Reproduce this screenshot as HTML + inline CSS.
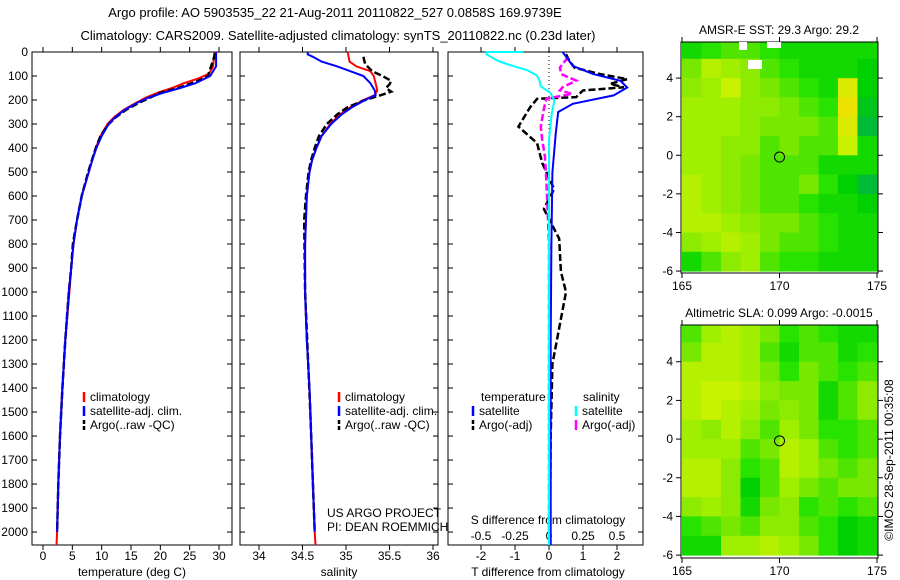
<!DOCTYPE html>
<html><head><meta charset="utf-8"><style>
body{margin:0;background:#fff}
svg{display:block;font-family:"Liberation Sans",sans-serif}
text{font-size:12px;fill:#000}
</style></head><body>
<svg id="fig" width="900" height="580" viewBox="0 0 900 580">
<text x="335" y="17" text-anchor="middle" style="font-size:13px">Argo profile: AO 5903535_22 21-Aug-2011 20110822_527 0.0858S 169.9739E</text>
<text x="338" y="40" text-anchor="middle" style="font-size:13px">Climatology: CARS2009. Satellite-adjusted climatology: synTS_20110822.nc (0.23d later)</text>
<text x="0" y="0" transform="translate(893,460) rotate(-90)" text-anchor="middle">©IMOS 28-Sep-2011 00:35:08</text>
<g id="g"></g>
</svg>
<script>
// ---- data ----
const depthTicks=[0,100,200,300,400,500,600,700,800,900,1000,1100,1200,1300,1400,1500,1600,1700,1800,1900,2000];
const tempTicks=[0,5,10,15,20,25,30];
const salTicks=[34,34.5,35,35.5,36];
const tdiffTicks=[-2,-1,0,1,2];
const sdiffTicks=[-0.5,-0.25,0,0.25,0.5];
const tempClim=[[0,29.2],[60,29.0],[90,28.3],[110,26.5],[130,24],[150,22],[170,19.5],[190,17.5],[210,16],[240,13.8],[270,12.2],[300,11],[350,9.8],[400,9],[450,8.4],[500,7.8],[600,6.6],[700,5.8],[800,5.2],[900,4.8],[1000,4.5],[1200,3.8],[1400,3.3],[1600,2.9],[1800,2.6],[2000,2.4],[2054,2.3]];
const tempSat=[[0,29.5],[60,29.5],[100,28.5],[130,26],[150,23.4],[170,20.5],[190,18],[210,16.2],[240,14],[270,12.4],[300,11.2],[350,10],[400,9.1],[450,8.4],[500,7.8],[600,6.6],[700,5.8],[800,5.2],[900,4.8],[1000,4.4],[1200,3.8],[1400,3.3],[1600,2.9],[1800,2.6],[1900,2.5],[2000,2.4]];
const tempArgo=[[5,29.4],[100,28.1],[120,26.5],[150,23],[170,20],[210,16.5],[240,14.2],[270,12.5],[300,11.2],[350,9.8],[400,9],[500,7.7],[600,6.6],[700,5.8],[800,5.1],[900,4.8],[1000,4.4],[1200,3.8],[1400,3.3],[1600,2.9],[1800,2.6],[2000,2.4]];
const salClim=[[0,35.02],[40,35.04],[60,35.12],[80,35.28],[100,35.32],[130,35.34],[160,35.36],[180,35.33],[200,35.2],[230,35.05],[260,34.93],[300,34.82],[350,34.72],[400,34.66],[450,34.61],[500,34.58],[600,34.55],[800,34.53],[1000,34.53],[1200,34.55],[1400,34.58],[1600,34.6],[1800,34.62],[2000,34.64],[2054,34.65]];
const salSat=[[0,34.56],[10,34.56],[20,34.62],[40,34.72],[60,34.9],[80,35.05],[100,35.2],[130,35.28],[160,35.33],[180,35.34],[200,35.22],[230,35.07],[260,34.95],[300,34.83],[350,34.72],[400,34.66],[450,34.61],[500,34.58],[600,34.55],[800,34.53],[1000,34.53],[1200,34.55],[1400,34.58],[1600,34.6],[1800,34.62],[2000,34.64]];
const salArgo=[[20,35.2],[50,35.22],[80,35.3],[100,35.42],[120,35.52],[135,35.5],[150,35.46],[165,35.52],[180,35.4],[200,35.22],[230,35.02],[260,34.9],[300,34.78],[350,34.69],[400,34.64],[450,34.6],[500,34.57],[600,34.54],[700,34.52],[1000,34.53],[1500,34.59],[2000,34.64]];
const tdiffSat=[[0,0.4],[58,0.7],[92,1.3],[120,2.1],[148,2.3],[181,1.9],[216,0.7],[250,0.27],[337,0.2],[502,0.1],[800,0.07],[1200,0.05],[2054,0.05]];
const sdiffSat=[[0,-0.19],[0,-0.46],[9,-0.46],[36,-0.38],[50,-0.31],[76,-0.16],[97,-0.09],[119,-0.07],[143,-0.06],[170,0.01],[202,0.04],[257,0.02],[366,0],[2054,0]];
const tdiffArgo=[[9,0.5],[37,0.6],[65,0.75],[92,1.5],[113,2.3],[133,1.8],[147,2.2],[160,1.0],[188,0.8],[195,-0.35],[229,-0.55],[311,-0.9],[380,-0.35],[462,-0.2],[571,0.15],[654,-0.15],[778,0.3],[915,0.35],[1000,0.5],[1150,0.3],[1300,0.1],[1600,0.05],[2000,0.03]];
const sdiffArgo=[[22,0.14],[65,0.08],[92,0.09],[119,0.2],[147,0.1],[160,0.08],[174,0.17],[195,-0.02],[243,-0.04],[311,-0.06],[366,-0.05],[435,-0.03],[530,-0.02],[800,0],[2000,0]];
const sstGrid=[
[0.5,0.55,0.6,0.6,0.55,0.5,0.5,0.5,0.5,0.5],
[0.65,0.8,0.75,0.7,0.6,0.55,0.5,0.5,0.5,0.45],
[0.7,0.75,0.85,0.7,0.65,0.6,0.55,0.5,0.9,0.45],
[0.75,0.75,0.75,0.7,0.7,0.65,0.6,0.55,0.95,0.4],
[0.75,0.75,0.75,0.7,0.65,0.65,0.65,0.6,0.9,0.35],
[0.75,0.75,0.7,0.7,0.6,0.65,0.6,0.6,0.85,0.5],
[0.75,0.75,0.7,0.65,0.6,0.6,0.6,0.5,0.5,0.5],
[0.8,0.75,0.7,0.65,0.6,0.6,0.65,0.55,0.45,0.35],
[0.8,0.75,0.7,0.65,0.6,0.6,0.55,0.5,0.5,0.45],
[0.8,0.8,0.75,0.7,0.65,0.65,0.6,0.55,0.5,0.5],
[0.7,0.75,0.8,0.75,0.65,0.6,0.6,0.55,0.5,0.5],
[0.5,0.6,0.7,0.75,0.6,0.55,0.55,0.5,0.5,0.5]];
const slaGrid=[
[0.6,0.75,0.8,0.75,0.65,0.55,0.6,0.55,0.5,0.5],
[0.65,0.8,0.8,0.75,0.6,0.5,0.6,0.6,0.5,0.55],
[0.8,0.8,0.8,0.75,0.65,0.55,0.65,0.6,0.55,0.6],
[0.8,0.85,0.85,0.8,0.7,0.65,0.65,0.5,0.6,0.7],
[0.8,0.85,0.8,0.75,0.65,0.7,0.65,0.5,0.6,0.7],
[0.75,0.7,0.8,0.7,0.6,0.75,0.65,0.55,0.55,0.6],
[0.75,0.75,0.75,0.6,0.65,0.8,0.75,0.6,0.55,0.6],
[0.8,0.8,0.7,0.55,0.6,0.8,0.75,0.65,0.6,0.65],
[0.8,0.8,0.7,0.45,0.6,0.75,0.65,0.6,0.65,0.65],
[0.7,0.75,0.7,0.5,0.65,0.7,0.55,0.6,0.55,0.6],
[0.55,0.6,0.65,0.6,0.7,0.7,0.6,0.55,0.45,0.5],
[0.5,0.5,0.75,0.75,0.8,0.75,0.65,0.55,0.45,0.5]];
const lonTicks=[165,170,175];
const latTicks=[-6,-4,-2,0,2,4];
const argoPos=[170,-0.09];

// ---- helpers ----
const NS="http://www.w3.org/2000/svg";
const G=document.getElementById('g');
function mk(tag,attrs,parent){const e=document.createElementNS(NS,tag);for(const k in attrs)e.setAttribute(k,attrs[k]);(parent||G).appendChild(e);return e;}
function txt(x,y,s,anchor){const e=mk('text',{x:x,y:y,'text-anchor':anchor||'start'});e.textContent=s;return e;}
const PT=52,PB=545,DMAX=2054;
const yD=d=>PT+d*(PB-PT)/DMAX;
const lin=(d0,d1,r0,r1)=>v=>r0+(v-d0)*(r1-r0)/(d1-d0);
const xT=lin(0,30,43,219), xS=lin(34,36,259,433), xTD=lin(0,2,549,617), xSD=lin(0,0.5,549,617);

function panel(x0,x1,name){
  const r=mk('rect',{x:x0,y:PT,width:x1-x0,height:PB-PT,fill:'none',stroke:'#000'});
  
  
  depthTicks.forEach(d=>{const y=yD(d);mk('line',{x1:x0,x2:x0+5,y1:y,y2:y,stroke:'#000'});mk('line',{x1:x1-5,x2:x1,y1:y,y2:y,stroke:'#000'});});
}
function xticks(vals,f,labY){vals.forEach(v=>{const x=f(v);mk('line',{x1:x,x2:x,y1:PB,y2:PB+5,stroke:'#000'});mk('line',{x1:x,x2:x,y1:PT,y2:PT-5,stroke:'#000'});const t=txt(x,labY,String(v),'middle');});}
function line(data,f,color,dash,name,w){
  const p=data.map((d,i)=>(i?'L':'M')+f(d[1]).toFixed(1)+','+yD(d[0]).toFixed(1)).join('');
  const e=mk('path',{d:p,fill:'none',stroke:color,'stroke-width':w||2,'stroke-dasharray':dash||'none'});
  
  
}
function leg(x,y,color,label){mk('line',{x1:x,x2:x,y1:y-9,y2:y+1,stroke:color,'stroke-width':2.5,'stroke-dasharray':color==='#000'?'4,2':'none'});const t=txt(x+6,y,label);}

depthTicks.forEach(d=>{const t=txt(28,yD(d)+4,String(d),'end');});

// panel 1
panel(32,232,'temperature-panel');
xticks(tempTicks,xT,560);
txt(132,576,'temperature (deg C)','middle');
line(tempClim,xT,'#f00',null,'temp-climatology-line');
line(tempArgo,xT,'#000','7,3','temp-argo-line',2.5);
line(tempSat,xT,'#00f',null,'temp-satellite-line');
leg(84,401,'#f00','climatology');leg(84,415,'#00f','satellite-adj. clim.');leg(84,429,'#000','Argo(..raw -QC)');

// panel 2
panel(240,438,'salinity-panel');
xticks(salTicks,xS,560);
txt(339,576,'salinity','middle');
line(salClim,xS,'#f00',null,'sal-climatology-line');
line(salArgo,xS,'#000','7,3','sal-argo-line',2.5);
line(salSat,xS,'#00f',null,'sal-satellite-line');
leg(339,401,'#f00','climatology');leg(339,415,'#00f','satellite-adj. clim.');leg(339,429,'#000','Argo(..raw -QC)');
txt(327,517,'US ARGO PROJECT');
txt(327,531,'PI: DEAN ROEMMICH');

// panel 3
panel(448,643,'difference-panel');
mk('line',{x1:549,x2:549,y1:PT,y2:260,stroke:'#000','stroke-dasharray':'1,3'});
xticks(tdiffTicks,xTD,560);
sdiffTicks.forEach(v=>{const t=txt(xSD(v),540,String(v),'middle');});
txt(548,524,'S difference from climatology','middle');
txt(548,576,'T difference from climatology','middle');
line(tdiffArgo,xTD,'#000','7,3','tdiff-argo-line',2.5);
line(sdiffArgo,xSD,'#f0f','7,3','sdiff-argo-line',2.5);
line(tdiffSat,xTD,'#00f',null,'tdiff-satellite-line');
line(sdiffSat,xSD,'#0ff',null,'sdiff-satellite-line');
txt(481,401,'temperature');txt(583,401,'salinity');
leg(473,415,'#00f','satellite');leg(473,429,'#000','Argo(-adj)');
leg(576,415,'#0ff','satellite');leg(576,429,'#f0f','Argo(-adj)');

// maps
const stops=[[0.3,[0,176,80]],[0.45,[0,208,0]],[0.55,[40,226,0]],[0.65,[120,232,0]],[0.75,[160,238,0]],[0.85,[200,242,0]],[0.95,[236,226,0]],[1.05,[224,112,0]]];
function cmap(v){if(v<=stops[0][0])return 'rgb('+stops[0][1]+')';for(let i=1;i<stops.length;i++){if(v<=stops[i][0]){const a=stops[i-1],b=stops[i],t=(v-a[0])/(b[0]-a[0]);return 'rgb('+a[1].map((c,j)=>Math.round(c+(b[1][j]-c)*t)).join(',')+')';}}return 'rgb('+stops[stops.length-1][1]+')';}
function map(grid,top,bot,latTop,latBot,title,name){
  const x0=681,x1=878;
  const fx=lin(165,175,682,877), fy=lin(latTop,latBot,top,bot);
  const g=mk('g',{});
  
  
  grid.forEach((row,r)=>row.forEach((v,c)=>{
    const la=6-r, lo=165+c;
    const ya=Math.max(top,fy(la)), yb=Math.min(bot,fy(la-1));
    const cell=mk('rect',{x:fx(lo).toFixed(1),y:ya.toFixed(1),width:(fx(lo+1)-fx(lo)+0.5).toFixed(1),height:(yb-ya+0.5).toFixed(1),fill:cmap(v)},g);
    
  }));
  mk('rect',{x:x0,y:top,width:x1-x0,height:bot-top,fill:'none',stroke:'#000'});
  lonTicks.forEach(v=>{const x=fx(v);mk('line',{x1:x,x2:x,y1:bot,y2:bot+5,stroke:'#000'});mk('line',{x1:x,x2:x,y1:top,y2:top-5,stroke:'#000'});const t=txt(x,bot+17,String(v),'middle');});
  latTicks.forEach(v=>{const y=fy(v);mk('line',{x1:x0,x2:x0-5,y1:y,y2:y,stroke:'#000'});mk('line',{x1:x1,x2:x1+5,y1:y,y2:y,stroke:'#000'});const t=txt(x0-8,y+4,String(v),'end');});
  const c=mk('circle',{cx:fx(argoPos[0]),cy:fy(argoPos[1]),r:5,fill:'none',stroke:'#000'});
  
  const t=txt(779,top-8,title,'middle');
}
map(sstGrid,42,273,5.87,-6.1,'AMSR-E SST: 29.3  Argo: 29.2','sst-map');
mk('rect',{x:739,y:42,width:8,height:8,fill:'#fff'});
mk('rect',{x:767,y:42,width:14,height:6,fill:'#fff'});
mk('rect',{x:748,y:60,width:14,height:9,fill:'#fff'});
map(slaGrid,325,558,5.9,-6.15,'Altimetric SLA: 0.099  Argo: -0.0015','sla-map');
</script>
</body></html>
